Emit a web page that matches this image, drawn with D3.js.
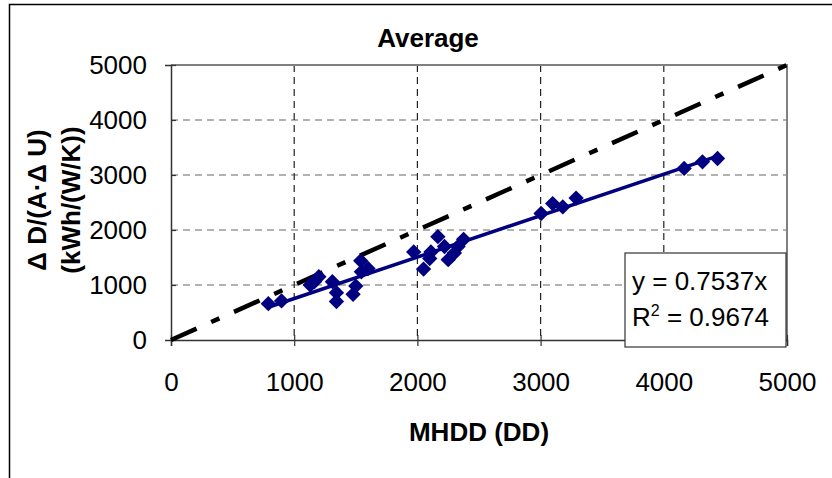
<!DOCTYPE html>
<html>
<head>
<meta charset="utf-8">
<script src="https://cdn.jsdelivr.net/npm/d3@7"></script>
<style>
  body { margin: 0; background: #fff; }
  svg { display: block; font-family: "Liberation Sans", Arial, sans-serif; }
</style>
</head>
<body>
<div id="chart"></div>
<script>
// --------------------------------------
//  Data
// --------------------------------------

const mhdd = [790, 897, 1130, 1165, 1200, 1310, 1343, 1343, 1478, 1500, 1540, 1545, 1599,
              1970, 2050, 2100, 2110, 2166, 2220, 2250, 2300, 2330, 2375,
              3004, 3098, 3180, 3288, 4165, 4314, 4436];
const dd    = [660, 710, 1000, 1060, 1150, 1060, 700, 860, 830, 980, 1440, 1240, 1300,
              1600, 1290, 1480, 1600, 1879, 1700, 1460, 1580, 1700, 1830,
              2300, 2480, 2420, 2580, 3120, 3240, 3300];
const slope = 0.7537;
const r2 = 0.9674;
const tickValues = [0, 1000, 2000, 3000, 4000, 5000];
const gridValues = [1000, 2000, 3000, 4000];
const refLine = [[0, 0], [5000, 5000]];

const data = mhdd.map((d, i) => ({MHDD: d, DD: dd[i]}));

// --------------------------------------
//  Margin and canvas
// --------------------------------------

const margin = {top: 65, right: 45, bottom: 138, left: 171};
const width = 832;
const height = 478;
const innerwidth = width - margin.left - margin.right;
const innerheight = height - margin.top - margin.bottom;

const svg = d3.select("#chart")
  .append("svg")
    .attr("width", width)
    .attr("height", height);

// chart frame (runs off the right and bottom edge)
svg.append("rect")
    .attr("x", 9.5)
    .attr("y", 4.5)
    .attr("width", 900)
    .attr("height", 600)
    .attr("fill", "#fff")
    .attr("stroke", "#000")
    .attr("stroke-width", 1.5);

const innerChart = svg
  .append("g")
    .attr("transform", `translate(${margin.left}, ${margin.top})`);

// --------------------------------------
//  Scales
// --------------------------------------

let x = d3.scaleLinear()
    .domain([0, 5000])
    .range([0, innerwidth]);

let y = d3.scaleLinear()
    .domain([0, 5000])
    .range([innerheight, 0]);

let format = d3.format("d");

// --------------------------------------
//  Grid and plot border
// --------------------------------------

innerChart.selectAll(".hgrid")
    .data(gridValues)
    .join("line")
    .attr("class", "hgrid")
    .attr("x1", 0)
    .attr("x2", innerwidth)
    .attr("y1", d => y(d))
    .attr("y2", d => y(d))
    .attr("stroke", "#666")
    .attr("stroke-width", 1.2)
    .attr("stroke-dasharray", "7,5");

innerChart.selectAll(".vgrid")
    .data(gridValues)
    .join("line")
    .attr("class", "vgrid")
    .attr("x1", d => x(d))
    .attr("x2", d => x(d))
    .attr("y1", 0)
    .attr("y2", innerheight)
    .attr("stroke", "#222")
    .attr("stroke-width", 1.2)
    .attr("stroke-dasharray", "7,5");

innerChart.append("path")
    .attr("d", `M0,${y(5000)}H${x(5000)}V${y(0)}`)
    .attr("fill", "none")
    .attr("stroke", "#808080")
    .attr("stroke-width", 2);

// --------------------------------------
//  Axes
// --------------------------------------

const xAxis = innerChart.append("g")
    .attr("transform", `translate(0, ${innerheight})`)
    .call(d3.axisBottom(x)
        .tickValues(tickValues)
        .tickFormat(format)
        .tickSize(6)
        .tickPadding(27));

const yAxis = innerChart.append("g")
    .call(d3.axisLeft(y)
        .tickValues(tickValues)
        .tickFormat(format)
        .tickSize(6)
        .tickPadding(18));

[xAxis, yAxis].forEach(a => {
  a.select(".domain").attr("stroke", "#333").attr("stroke-width", 1.5);
  a.selectAll(".tick line").attr("stroke", "#333").attr("stroke-width", 1.2);
  a.selectAll(".tick text")
      .attr("fill", "#000")
      .style("font-size", "26px")
      .style("font-family", "Liberation Sans, Arial, sans-serif");
});
xAxis.selectAll(".tick line").attr("y1", -5);
yAxis.selectAll(".tick line").attr("x2", 5);

// --------------------------------------
//  Data drawing
// --------------------------------------

const line = d3.line().x(d => x(d[0])).y(d => y(d[1]));

innerChart.append("path")
    .attr("d", line(refLine))
    .attr("fill", "none")
    .attr("stroke", "#000")
    .attr("stroke-width", 4.5)
    .attr("stroke-dasharray", "28,16,9,16");

const xr = d3.extent(mhdd);
innerChart.append("path")
    .attr("d", line(xr.map(v => [v, slope * v])))
    .attr("fill", "none")
    .attr("stroke", "#000080")
    .attr("stroke-width", 3.5);

innerChart.selectAll(".pt")
    .data(data)
    .join("path")
    .attr("class", "pt")
    .attr("d", d3.symbol(d3.symbolDiamond2, 150))
    .attr("transform", d => `translate(${x(d.MHDD)}, ${y(d.DD)})`)
    .attr("fill", "#000080");

// --------------------------------------
//  Equation box
// --------------------------------------

const box = innerChart.append("g")
    .attr("transform", `translate(${625 - margin.left}, ${253 - margin.top})`);

box.append("rect")
    .attr("width", 161)
    .attr("height", 94)
    .attr("fill", "#fff")
    .attr("stroke", "#333")
    .attr("stroke-width", 1.2);

box.append("text")
    .attr("x", 7)
    .attr("y", 37)
    .style("font-size", "26px")
    .text(`y = ${slope}x`);

const r2text = box.append("text")
    .attr("x", 7)
    .attr("y", 73)
    .style("font-size", "26px");
r2text.append("tspan").text("R");
r2text.append("tspan").attr("dy", -10).style("font-size", "16px").text("2");
r2text.append("tspan").attr("dy", 10).text(` = ${r2}`);

// --------------------------------------
//  Titles
// --------------------------------------

svg.append("text")
    .attr("x", 428)
    .attr("y", 47)
    .attr("text-anchor", "middle")
    .style("font-size", "26px")
    .style("font-weight", "bold")
    .text("Average");

svg.append("text")
    .attr("x", margin.left + innerwidth / 2)
    .attr("y", 441)
    .attr("text-anchor", "middle")
    .style("font-size", "26px")
    .style("font-weight", "bold")
    .text("MHDD (DD)");

const ytitle = svg.append("text")
    .attr("transform", `translate(0, 200) rotate(-90)`)
    .attr("text-anchor", "middle")
    .style("font-size", "26px")
    .style("font-weight", "bold");
ytitle.append("tspan").attr("x", 0).attr("y", 46).text("\u0394 D/(A\u00b7\u0394 U)");
ytitle.append("tspan").attr("x", 0).attr("y", 80).text("(kWh/(W/K))");
</script>
</body>
</html>
